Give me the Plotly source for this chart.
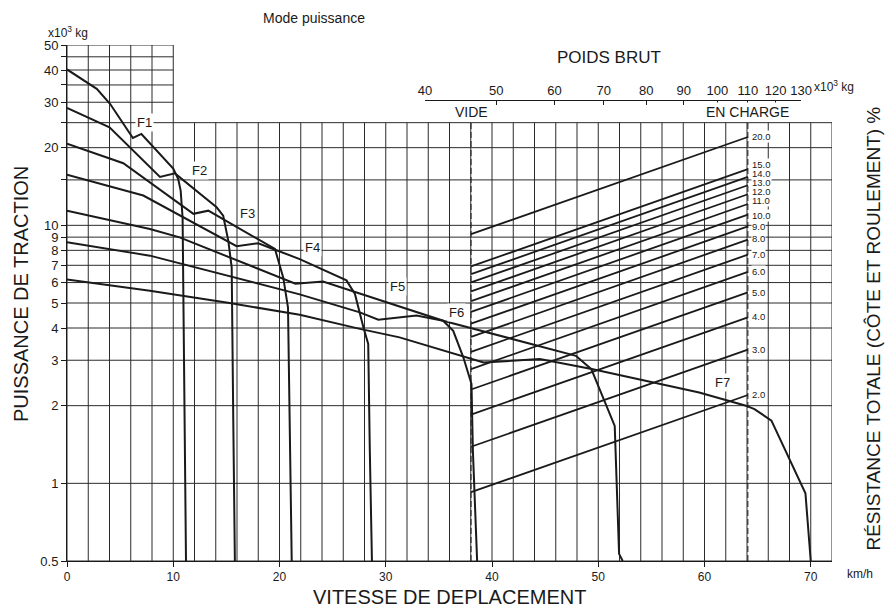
import numpy as np
import plotly.graph_objects as go

# ---------------- data ----------------
# Rimpull curves per gear : speed (km/h) / tractive force (x10^3 kg)
f1_speed = [0, 2.8, 4.05, 6.2, 7.0, 10.0, 10.47, 10.7, 10.88, 11.0, 11.2]
f1_force = [40.2, 33.8, 29.6, 21.8, 22.6, 16.6, 15.1, 13.6, 10.7, 3.27, 0.5]

f2_speed = [0, 4.0, 8.75, 10.16, 14.08, 14.7, 15.18, 15.5, 15.65, 15.8]
f2_force = [28.5, 24.0, 15.4, 15.9, 11.75, 10.9, 8.73, 6.87, 1.75, 0.5]

f3_speed = [0, 5.3, 11.9, 13.3, 19.57, 20.35, 20.8, 20.98, 21.15]
f3_force = [20.7, 17.4, 11.08, 11.4, 8.1, 6.28, 4.8, 1.75, 0.5]

f4_speed = [0, 7.18, 15.96, 18.0, 19.4, 21.9, 26.3, 27.1, 27.9, 28.35, 28.5, 28.7]
f4_force = [15.7, 13.05, 8.30, 8.52, 8.1, 7.4, 6.12, 5.42, 4.02, 3.47, 1.34, 0.5]

f5_speed = [0, 7.8, 10.6, 21.5, 24.1, 35.4, 36.35, 37.3, 38.07, 38.2, 38.6]
f5_force = [11.4, 9.68, 8.98, 5.94, 6.06, 4.27, 3.9, 3.08, 2.43, 1.34, 0.5]

f6_speed = [0, 7.8, 21.9, 27.56, 29.3, 32.9, 35.4, 47.9, 49.35, 51.55, 51.96, 52.3]
f6_force = [8.6, 7.63, 5.4, 4.6, 4.31, 4.47, 4.27, 3.12, 2.77, 1.67, 0.533, 0.5]

f7_speed = [0, 7.8, 15.3, 21.9, 27.56, 31.3, 39.2, 44.5, 49.5, 59.5, 63.9, 64.7, 66.3, 69.5, 70.0]
f7_force = [6.17, 5.58, 5.0, 4.5, 3.97, 3.68, 2.94, 3.03, 2.77, 2.25, 2.0, 1.94, 1.75, 0.915, 0.5]

gear_names = ["F1", "F2", "F3", "F4", "F5", "F6", "F7"]
gear_speeds = [f1_speed, f2_speed, f3_speed, f4_speed, f5_speed, f6_speed, f7_speed]
gear_forces = [f1_force, f2_force, f3_force, f4_force, f5_force, f6_force, f7_force]
# label anchor points (speed, force)
label_speed = [7.34, 12.5, 17.0, 23.15, 31.15, 36.7, 61.7]
label_force = [25.0, 16.3, 11.1, 8.2, 5.79, 4.59, 2.46]

# Gross weight scale (x10^3 kg) and total resistance (%)
weight_ticks = [40, 50, 60, 70, 80, 90, 100, 110, 120, 130]
weight_empty = 46.2
weight_loaded = 110.0
resistance_pct = [2, 3, 4, 5, 6, 7, 8, 9, 10, 11, 12, 13, 14, 15, 20]

speed_ticks = [0, 10, 20, 30, 40, 50, 60, 70]
force_ticks = [0.5, 1, 2, 3, 4, 5, 6, 7, 8, 9, 10, 15, 20, 25, 30, 35, 40, 45, 50]
force_tick_text = ["0.5", "1", "2", "3", "4", "5", "6", "7", "8", "9", "10", "", "20",
                   "", "30", "", "40", "", "50"]

# grid definition
grid_h_full = [0.5, 1, 2, 3, 4, 5, 6, 7, 8, 9, 10, 15, 20, 25]
grid_h_left = [30, 35, 40, 45, 50]
grid_v = list(range(0, 73, 2))

# small vertical offsets (px) that spread the crowded resistance labels
pct_label_shift = [0, 0, 1, 0, 0, 0, 1, 0, -1, 3.5, 2.7, 2.8, 3.5, 4.7, 0]

# ---------------- figure ----------------
INK = "#1a1a1a"
FONT = "Liberation Sans, Arial, Helvetica, sans-serif"
fig = go.Figure()

# grid as a single line trace
gx, gy = [], []
for v in grid_h_full:
    gx += [0, 72, None]; gy += [v, v, None]
for v in grid_h_left:
    gx += [0, 10, None]; gy += [v, v, None]
for s in grid_v:
    top = 50 if s <= 10 else 25
    gx += [s, s, None]; gy += [0.5, top, None]
fig.add_trace(go.Scatter(x=gx, y=gy, mode="lines", line=dict(color="#2b2b2b", width=1),
                         hoverinfo="skip", showlegend=False))

# resistance lines on the weight axis (x2)
for p in resistance_pct:
    ws = [weight_empty, weight_loaded]
    fig.add_trace(go.Scatter(x=ws, y=[w * p / 100 for w in ws], xaxis="x2", yaxis="y",
                             mode="lines", line=dict(color=INK, width=1.8),
                             hoverinfo="skip", showlegend=False))

# empty / loaded dashed lines
for w in [weight_empty, weight_loaded]:
    fig.add_trace(go.Scatter(x=[w, w], y=[0.5, 29.0], xaxis="x2", yaxis="y", mode="lines",
                             line=dict(color=INK, width=1, dash="6px,3px"),
                             hoverinfo="skip", showlegend=False))

# gear curves
for name, xs, ys in zip(gear_names, gear_speeds, gear_forces):
    fig.add_trace(go.Scatter(x=xs, y=ys, mode="lines", name=name,
                             line=dict(color=INK, width=2), showlegend=False))


def txt(size):
    return dict(size=size, color=INK, family=FONT)


annotations = []
for name, xs, ys in zip(gear_names, label_speed, label_force):
    annotations.append(dict(x=xs, y=np.log10(ys), xref="x", yref="y", text=name,
                            showarrow=False, xanchor="center", yanchor="middle",
                            font=txt(13), bgcolor="white", borderpad=1))

for p, sh in zip(resistance_pct, pct_label_shift):
    annotations.append(dict(x=np.log10(weight_loaded), y=np.log10(weight_loaded * p / 100),
                            xref="x2", yref="y", text=f"{p:.1f}", showarrow=False,
                            xanchor="left", yanchor="middle", xshift=3, yshift=sh,
                            font=txt(9.5), bgcolor="white", borderpad=0))

annotations += [
    dict(x=np.log10(weight_empty), y=0.871, xref="x2", yref="paper", text="VIDE",
         showarrow=False, xanchor="center", yanchor="middle", font=txt(14), bgcolor="white"),
    dict(x=np.log10(weight_loaded), y=0.871, xref="x2", yref="paper", text="EN CHARGE",
         showarrow=False, xanchor="center", yanchor="middle", font=txt(14), bgcolor="white"),
    dict(x=0.7085, y=0.975, xref="paper", yref="paper", text="POIDS BRUT", showarrow=False,
         xanchor="center", yanchor="middle", font=txt(17)),
    dict(x=0.974, y=0.921, xref="paper", yref="paper", text="x10<sup>3</sup> kg",
         showarrow=False, xanchor="left", yanchor="middle", font=txt(12)),
    dict(x=0.323, y=1.052, xref="paper", yref="paper", text="Mode puissance",
         showarrow=False, xanchor="center", yanchor="middle", font=txt(14)),
    dict(x=-0.027, y=1.026, xref="paper", yref="paper", text="x10<sup>3</sup> kg",
         showarrow=False, xanchor="left", yanchor="middle", font=txt(12)),
    dict(x=1.017, y=-0.025, xref="paper", yref="paper", text="km/h", showarrow=False,
         xanchor="left", yanchor="middle", font=txt(12)),
    dict(x=0.5, y=-0.07, xref="paper", yref="paper", text="VITESSE DE DEPLACEMENT",
         showarrow=False, xanchor="center", yanchor="middle", font=txt(20)),
    dict(x=-0.061, y=0.518, xref="paper", yref="paper", text="PUISSANCE DE TRACTION",
         showarrow=False, textangle=-90, xanchor="center", yanchor="middle", font=txt(20)),
    dict(x=1.053, y=0.4496, xref="paper", yref="paper",
         text="RÉSISTANCE TOTALE (CÔTE ET ROULEMENT) %", showarrow=False, textangle=-90,
         xanchor="center", yanchor="middle", font=txt(19)),
]

# the page body has an 8px margin: the figure is sized so that it fills the window
fig.update_layout(
    width=886, height=602,
    margin=dict(l=59, r=62, t=37, b=49),
    paper_bgcolor="white", plot_bgcolor="rgba(0,0,0,0)",
    showlegend=False,
    font=dict(family=FONT, color=INK, size=12),
    xaxis=dict(range=[0, 72], domain=[0, 1], showgrid=False, zeroline=False, showline=True,
               linecolor=INK, linewidth=1, ticks="outside", ticklen=5, tickcolor=INK,
               tickvals=speed_ticks, tickfont=txt(12)),
    yaxis=dict(type="log", range=[np.log10(0.5), np.log10(50)], showgrid=False,
               zeroline=False, showline=True, linecolor=INK, linewidth=1, ticks="outside",
               ticklen=5, tickcolor=INK, tickvals=force_ticks, ticktext=force_tick_text,
               tickfont=txt(13)),
    xaxis2=dict(type="log", range=[np.log10(40), np.log10(130)],
                domain=[33.7 / 72, 69.1 / 72], anchor="free", position=0.893, side="top",
                showgrid=False, zeroline=False, showline=True, linecolor=INK, linewidth=1,
                ticks="inside", ticklen=4, tickcolor=INK, tickvals=weight_ticks,
                tickfont=txt(13)),
    annotations=annotations,
)

fig.write_html("out.html")
